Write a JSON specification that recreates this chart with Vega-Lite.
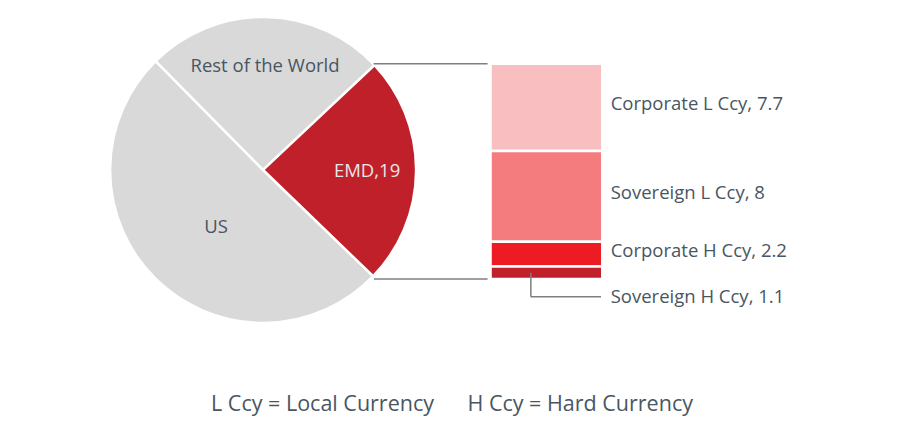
{
  "$schema": "https://vega.github.io/schema/vega-lite/v6.json",
  "width": 904,
  "height": 432,
  "autosize": {"type": "fit", "contains": "padding"},
  "padding": 0,
  "background": "white",
  "config": {"view": {"stroke": null}, "font": "Open Sans"},
  "datasets": {
    "market": [
      {"name": "US", "label": "US", "value": 39.5},
      {"name": "Rest of the World", "label": "Rest of the World", "value": 19.9},
      {"name": "EMD", "label": "EMD,19", "value": 19}
    ],
    "emd": [
      {"name": "Corporate L Ccy", "issuer": "Corporate", "currency": "Local", "label": "Corporate L Ccy, 7.7", "value": 7.7},
      {"name": "Sovereign L Ccy", "issuer": "Sovereign", "currency": "Local", "label": "Sovereign L Ccy, 8", "value": 8},
      {"name": "Corporate H Ccy", "issuer": "Corporate", "currency": "Hard", "label": "Corporate H Ccy, 2.2", "value": 2.2},
      {"name": "Sovereign H Ccy", "issuer": "Sovereign", "currency": "Hard", "label": "Sovereign H Ccy, 1.1", "value": 1.1}
    ],
    "caption": [
      {"text": "L Ccy = Local Currency\u00a0\u00a0\u00a0\u00a0\u00a0\u00a0H Ccy = Hard Currency"}
    ],
    "one": [{}]
  },
  "layer": [
    {
      "data": {"name": "market"},
      "mark": {"type": "arc", "outerRadius": 153, "stroke": "white", "strokeWidth": 2.5},
      "encoding": {
        "x": {"datum": 28.87, "type": "quantitative", "scale": {"domain": [0, 100], "nice": false, "zero": false}, "axis": null},
        "y": {"datum": 9.63, "type": "quantitative", "scale": {"domain": [-13.5, 24.63], "nice": false, "zero": false}, "axis": null},
        "theta": {"field": "value", "type": "quantitative", "stack": true, "scale": {"range": [2.3387, 8.6219]}},
        "color": {
          "field": "name", "type": "nominal", "legend": null,
          "scale": {
            "domain": ["US", "Rest of the World", "EMD", "Corporate L Ccy", "Sovereign L Ccy", "Corporate H Ccy", "Sovereign H Ccy"],
            "range": ["#d9d9d9", "#d9d9d9", "#c0202a", "#f9bfc0", "#f47c7e", "#ed1c24", "#c0202a"]
          }
        },
        "order": {"field": "name", "sort": "descending"}
      }
    },
    {
      "data": {"name": "one"},
      "mark": {"type": "rule", "color": "#7f7f7f", "strokeWidth": 1.5},
      "encoding": {
        "x": {"datum": 41.23, "type": "quantitative", "scale": {"domain": [0, 100], "nice": false, "zero": false}, "axis": null},
        "x2": {"datum": 53.98},
        "y": {"datum": 19, "type": "quantitative", "scale": {"domain": [-13.5, 24.63], "nice": false, "zero": false}, "axis": null}
      }
    },
    {
      "data": {"name": "one"},
      "mark": {"type": "rule", "color": "#7f7f7f", "strokeWidth": 1.5},
      "encoding": {
        "x": {"datum": 41.26, "type": "quantitative", "scale": {"domain": [0, 100], "nice": false, "zero": false}, "axis": null},
        "x2": {"datum": 53.98},
        "y": {"datum": 0, "type": "quantitative", "scale": {"domain": [-13.5, 24.63], "nice": false, "zero": false}, "axis": null}
      }
    },
    {
      "data": {"name": "emd"},
      "transform": [
        {"stack": "value", "groupby": [], "sort": [{"field": "currency", "order": "ascending"}, {"field": "issuer", "order": "descending"}], "as": ["lo", "hi"]}
      ],
      "mark": {"type": "bar", "orient": "vertical", "stroke": "white", "strokeWidth": 2.5},
      "encoding": {
        "x": {"datum": 54.31, "type": "quantitative", "scale": {"domain": [0, 100], "nice": false, "zero": false}, "axis": null},
        "x2": {"datum": 66.81},
        "y": {"field": "lo", "type": "quantitative", "scale": {"domain": [-13.5, 24.63], "nice": false, "zero": false}, "axis": null},
        "y2": {"field": "hi"},
        "color": {"field": "name", "type": "nominal", "legend": null}
      }
    },
    {
      "data": {"name": "one"},
      "mark": {"type": "rule", "color": "#7f7f7f", "strokeWidth": 1.5},
      "encoding": {
        "x": {"datum": 58.82, "type": "quantitative", "scale": {"domain": [0, 100], "nice": false, "zero": false}, "axis": null},
        "y": {"datum": 0.55, "type": "quantitative", "scale": {"domain": [-13.5, 24.63], "nice": false, "zero": false}, "axis": null},
        "y2": {"datum": -1.56}
      }
    },
    {
      "data": {"name": "one"},
      "mark": {"type": "rule", "color": "#7f7f7f", "strokeWidth": 1.5},
      "encoding": {
        "x": {"datum": 58.82, "type": "quantitative", "scale": {"domain": [0, 100], "nice": false, "zero": false}, "axis": null},
        "x2": {"datum": 66.67},
        "y": {"datum": -1.56, "type": "quantitative", "scale": {"domain": [-13.5, 24.63], "nice": false, "zero": false}, "axis": null}
      }
    },
    {
      "data": {"name": "emd"},
      "transform": [
        {"stack": "value", "groupby": [], "sort": [{"field": "currency", "order": "ascending"}, {"field": "issuer", "order": "descending"}], "as": ["lo", "hi"]},
        {"filter": "datum.name !== 'Sovereign H Ccy'"},
        {"fold": ["lo", "hi"], "as": ["edge", "pos"]},
        {"aggregate": [{"op": "mean", "field": "pos", "as": "mid"}], "groupby": ["name", "label"]}
      ],
      "mark": {"type": "text", "align": "left", "baseline": "middle", "dy": -3, "fontSize": 18.5, "color": "#485662"},
      "encoding": {
        "x": {"datum": 67.75, "type": "quantitative", "scale": {"domain": [0, 100], "nice": false, "zero": false}, "axis": null},
        "y": {"field": "mid", "type": "quantitative", "scale": {"domain": [-13.5, 24.63], "nice": false, "zero": false}, "axis": null},
        "text": {"field": "label"}
      }
    },
    {
      "data": {"name": "emd"},
      "transform": [{"filter": "datum.name === 'Sovereign H Ccy'"}],
      "mark": {"type": "text", "align": "left", "baseline": "middle", "fontSize": 18.5, "color": "#485662"},
      "encoding": {
        "x": {"datum": 67.75, "type": "quantitative", "scale": {"domain": [0, 100], "nice": false, "zero": false}, "axis": null},
        "y": {"datum": -1.56, "type": "quantitative", "scale": {"domain": [-13.5, 24.63], "nice": false, "zero": false}, "axis": null},
        "text": {"field": "label"}
      }
    },
    {
      "data": {"name": "market"},
      "mark": {"type": "text", "align": "center", "baseline": "middle", "radius": 104, "fontSize": 18.5},
      "encoding": {
        "x": {"datum": 28.87, "type": "quantitative", "scale": {"domain": [0, 100], "nice": false, "zero": false}, "axis": null},
        "y": {"datum": 9.63, "type": "quantitative", "scale": {"domain": [-13.5, 24.63], "nice": false, "zero": false}, "axis": null},
        "theta": {"field": "value", "type": "quantitative", "stack": true},
        "detail": {"field": "name", "type": "nominal"},
        "order": {"field": "name", "sort": "descending"},
        "text": {"condition": {"test": "datum.name !== 'US'", "field": "label"}, "value": ""},
        "color": {"condition": {"test": "datum.name === 'EMD'", "value": "#e6e6e6"}, "value": "#485662"}
      }
    },
    {
      "data": {"name": "market"},
      "mark": {"type": "text", "align": "center", "baseline": "middle", "radius": 74, "dx": 5, "dy": 4, "fontSize": 18.5, "color": "#485662"},
      "encoding": {
        "x": {"datum": 28.87, "type": "quantitative", "scale": {"domain": [0, 100], "nice": false, "zero": false}, "axis": null},
        "y": {"datum": 9.63, "type": "quantitative", "scale": {"domain": [-13.5, 24.63], "nice": false, "zero": false}, "axis": null},
        "theta": {"field": "value", "type": "quantitative", "stack": true},
        "detail": {"field": "name", "type": "nominal"},
        "order": {"field": "name", "sort": "descending"},
        "text": {"condition": {"test": "datum.name === 'US'", "field": "label"}, "value": ""}
      }
    },
    {
      "data": {"name": "caption"},
      "mark": {"type": "text", "align": "center", "baseline": "middle", "fontSize": 21.5, "color": "#485662"},
      "encoding": {
        "x": {"datum": 50, "type": "quantitative", "scale": {"domain": [0, 100], "nice": false, "zero": false}, "axis": null},
        "y": {"datum": -11.12, "type": "quantitative", "scale": {"domain": [-13.5, 24.63], "nice": false, "zero": false}, "axis": null},
        "text": {"field": "text"}
      }
    }
  ]
}
